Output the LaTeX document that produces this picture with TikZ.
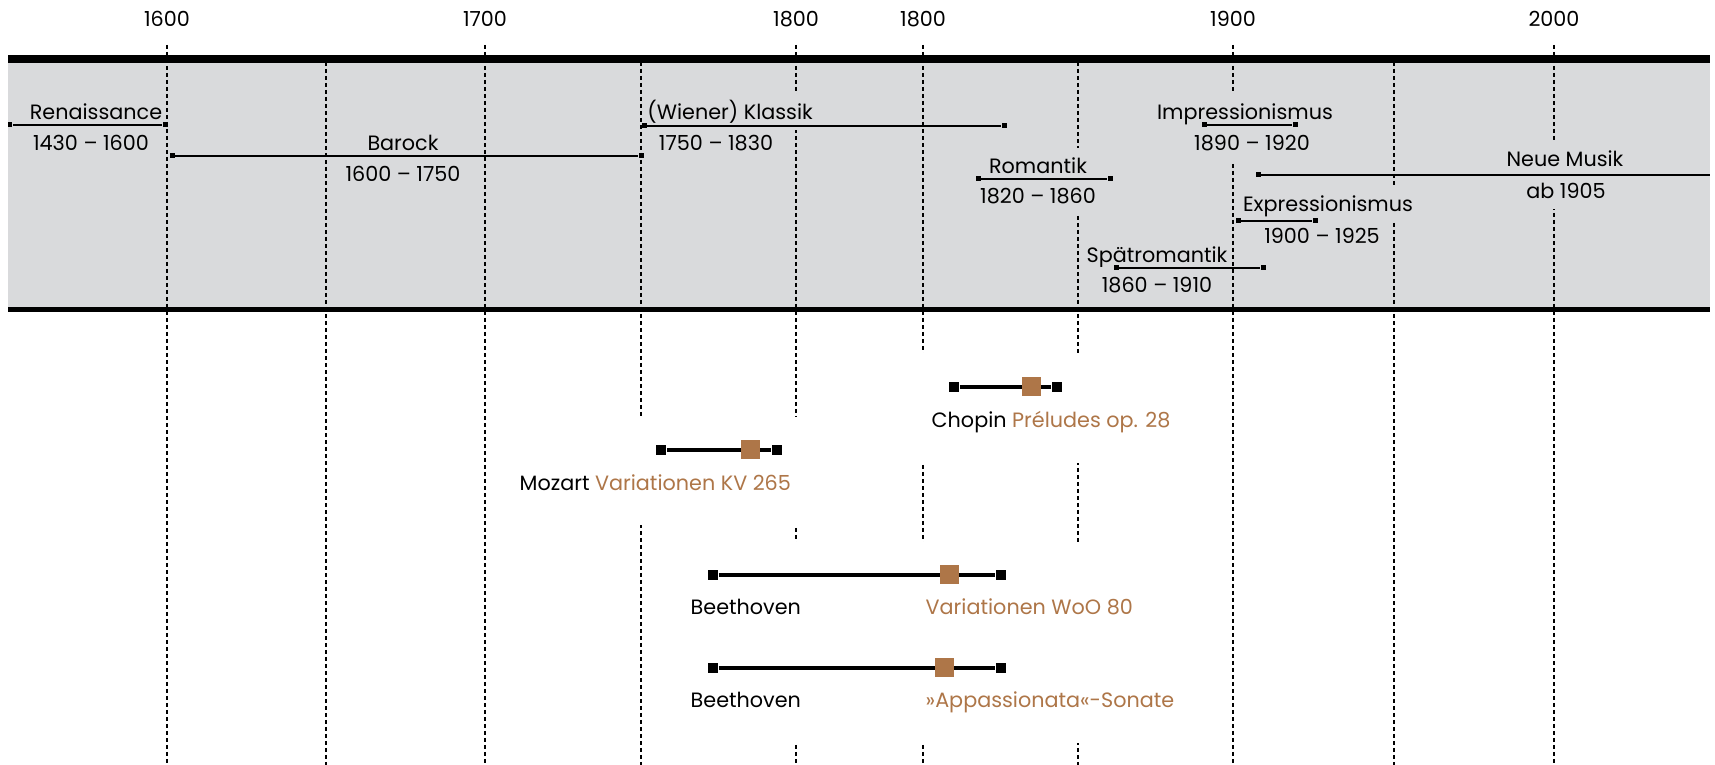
\documentclass[tikz,border=0pt]{standalone}
\usepackage{fontspec}
\setmainfont{Poppins}
\usetikzlibrary{positioning}

\definecolor{bandgray}{HTML}{D9DADC}
\definecolor{workbrown}{HTML}{AE7648}

\begin{document}
\begin{tikzpicture}[
    x=0.1mm, y=-0.1mm,
    font=\fontsize{5.9pt}{7pt}\selectfont,
    grid/.style={line width=0.33pt, dash pattern=on 0.4mm off 0.3mm},
    rule/.style={line width=#1},
    era/.style={fill=bandgray, inner xsep=0.5pt, inner ysep=0pt,
      minimum height=3.6mm, text height=1.8mm, text depth=0.3mm},
    span/.style={line width=0.45pt},
    endmark/.style={fill=black, inner sep=0pt, minimum size=0.5mm},
    workend/.style={fill=black, inner sep=0pt, minimum size=1.05mm},
    workmark/.style={fill=workbrown, inner sep=0pt, minimum size=1.9mm},
    workbar/.style={line width=0.9pt},
    worktext/.style={anchor=base west, inner sep=0pt},
    title/.style={text=workbrown}
  ]
  \useasboundingbox (0,0) rectangle (1715,765);

  % band and years
  \fill[bandgray] (8,59) rectangle (1710,310);
  \foreach \x/\yr [count=\i] in {167/1600, 485/1700, 796/1800, 923/1800, 1233/1900, 1554/2000}
    \node[text height=1.8mm, text depth=0.3mm] (year\i) at (\x,19) {\yr};
  \foreach \x in {167,485,796,923,1233,1554}
    \draw[grid] (\x,45) -- (\x,765);
  \foreach \x in {326,641,1078,1394}
    \draw[grid] (\x,62) -- (\x,765);

  % room for the works
  \fill[white] (905,353) rectangle (1190,463);
  \fill[white] (500,417) rectangle (810,525);
  \fill[white] (680,542) rectangle (1190,743);

  \draw[rule=0.77mm] (8,59) -- (1710,59);
  \draw[rule=0.5mm] (8,310) -- (1710,310);

  % eras
  \node[era] (ren) at (96,112) {Renaissance};
  \node[era] (renyr) at (91,143) {1430 – 1600};
  \node[era] (bar) at (403,143) {Barock};
  \node[era] (baryr) at (403,174) {1600 – 1750};
  \node[era, anchor=west] (kla) at (645,112) {(Wiener) Klassik};
  \node[era] (klayr) at (716,143) {1750 – 1830};
  \node[era] (rom) at (1038,166) {Romantik};
  \node[era] (romyr) at (1038,196) {1820 – 1860};
  \node[era] (spr) at (1157,255) {Spätromantik};
  \node[era] (spryr) at (1157,285) {1860 – 1910};
  \node[era] (imp) at (1245,112) {Impressionismus};
  \node[era] (impyr) at (1252,143) {1890 – 1920};
  \node[era] (neu) at (1565,159) {Neue Musik};
  \node[era] (neuyr) at (1566,191) {ab 1905};
  \node[era] (exp) at (1328,204) {Expressionismus};
  \node[era] (expyr) at (1322,236) {1900 – 1925};

  \node[endmark] (ren-s) at (10,125) {};
  \node[endmark] (ren-e) at (165,125) {};
  \node[endmark] (bar-s) at (172,156) {};
  \node[endmark] (bar-e) at (641,156) {};
  \node[endmark] (kla-s) at (644,126) {};
  \node[endmark] (kla-e) at (1004,126) {};
  \node[endmark] (rom-s) at (978,179) {};
  \node[endmark] (rom-e) at (1110,179) {};
  \node[endmark] (spr-s) at (1116,268) {};
  \node[endmark] (spr-e) at (1263,268) {};
  \node[endmark] (imp-s) at (1204,125) {};
  \node[endmark] (imp-e) at (1295,125) {};
  \node[endmark] (neu-s) at (1258,175) {};
  \coordinate (neu-e) at (1710,175);
  \node[endmark] (exp-s) at (1238,221) {};
  \node[endmark] (exp-e) at (1315,221) {};
  \foreach \e in {ren,bar,kla,rom,spr,imp,neu,exp}
    \draw[span] (\e-s) -- (\e-e);

  % works
  \node[workend] (cho-s) at (954,387) {};
  \node[workend] (cho-e) at (1057,387) {};
  \node[workend] (moz-s) at (661,450) {};
  \node[workend] (moz-e) at (777,450) {};
  \node[workend] (woo-s) at (713,575) {};
  \node[workend] (woo-e) at (1001,575) {};
  \node[workend] (app-s) at (713,668) {};
  \node[workend] (app-e) at (1001,668) {};
  \foreach \w in {cho,moz,woo,app}
    \draw[workbar] (\w-s) -- (\w-e);
  \node[workmark] (cho-m) at (1031,387) {};
  \node[workmark] (moz-m) at (750,450) {};
  \node[workmark] (woo-m) at (949,575) {};
  \node[workmark] (app-m) at (944,668) {};

  \node[worktext] (cho) at (931,428) {Chopin \textcolor{workbrown}{Préludes op. 28}};
  \node[worktext] (moz) at (519,491) {Mozart \textcolor{workbrown}{Variationen KV 265}};
  \node[worktext] (woo-c) at (690,615) {Beethoven};
  \node[worktext, title] (woo) at (925,615) {Variationen WoO 80};
  \node[worktext] (app-c) at (690,708) {Beethoven};
  \node[worktext, title] (app) at (925,708) {»Appassionata«-Sonate};
\end{tikzpicture}
\end{document}
